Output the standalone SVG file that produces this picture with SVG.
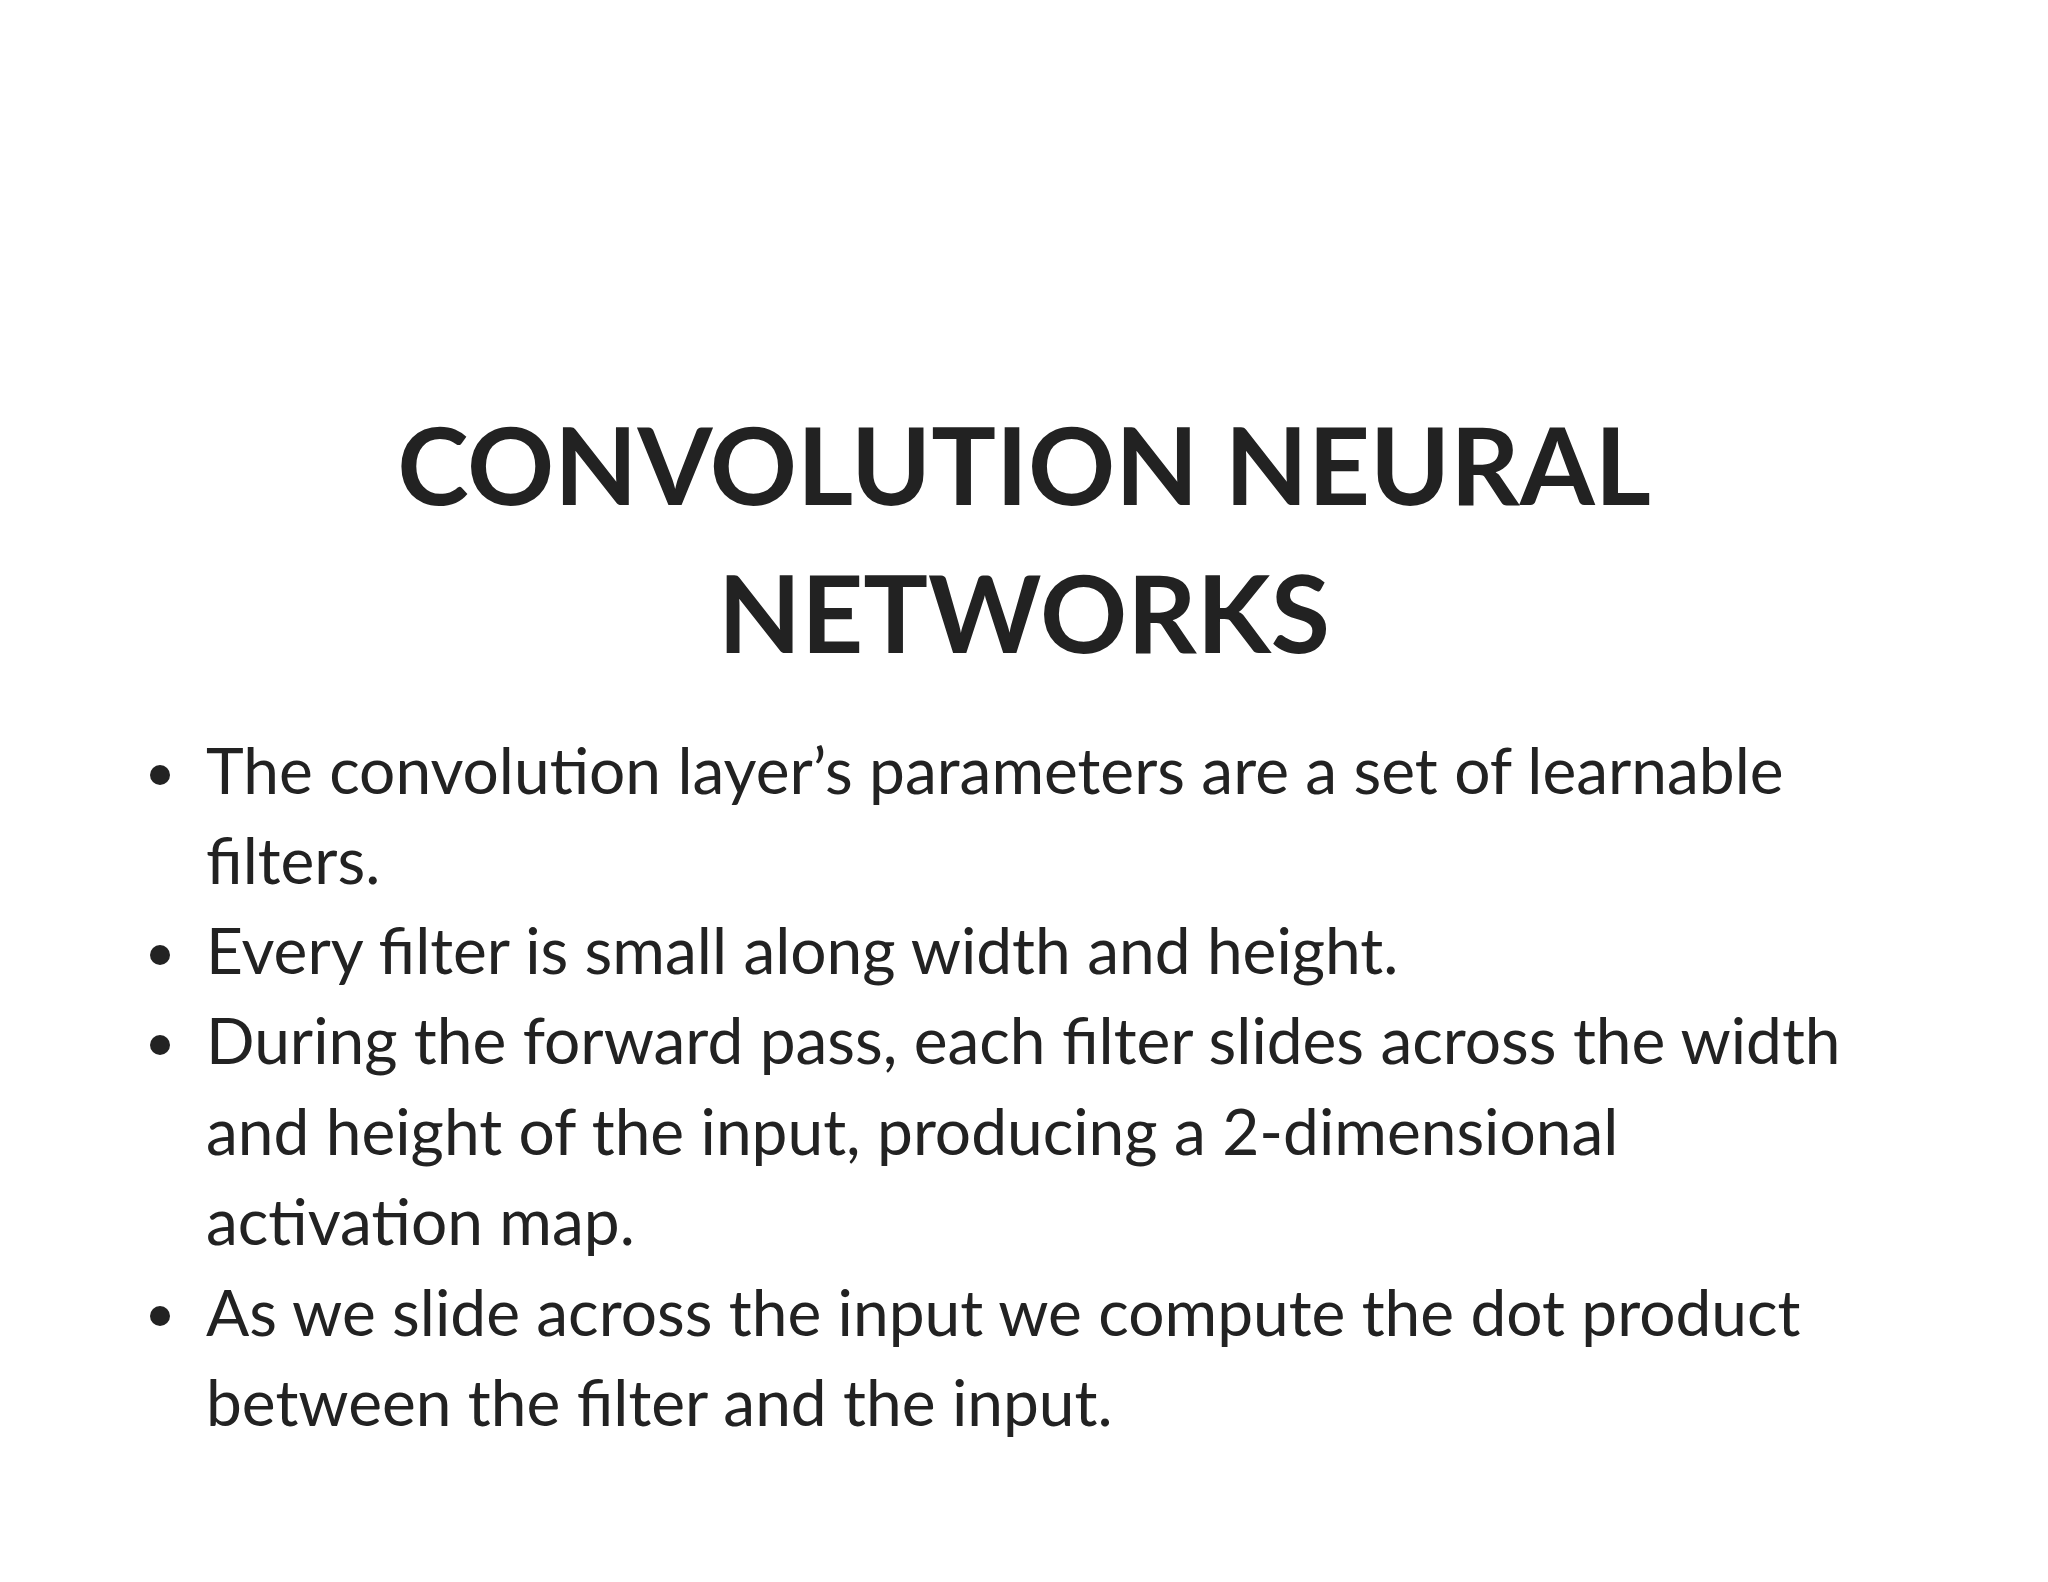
<svg xmlns="http://www.w3.org/2000/svg" width="2048" height="1582" viewBox="0 0 2048 1582">
<style>
.t{font-family:Lato,"Noto Sans",sans-serif;font-weight:bold;font-size:108px;fill:#222;text-anchor:middle}
.b{font-family:Lato,"Noto Sans",sans-serif;font-size:64px;fill:#222}
.d{fill:#222}
</style>
<rect width="2048" height="1582" fill="#fff"/>
<g id="title">
<text class="t" x="1024" y="505">CONVOLUTION NEURAL</text>
<text class="t" x="1024" y="653">NETWORKS</text>
</g>
<g id="bullets">
<circle class="d" cx="160" cy="775" r="10"/>
<circle class="d" cx="160" cy="955" r="10"/>
<circle class="d" cx="160" cy="1045" r="10"/>
<circle class="d" cx="160" cy="1316" r="10"/>
<text class="b" x="206" y="794">The convolution layer’s parameters are a set of learnable</text>
<text class="b" x="206" y="884">filters.</text>
<text class="b" x="206" y="974">Every filter is small along width and height.</text>
<text class="b" x="206" y="1064">During the forward pass, each filter slides across the width</text>
<text class="b" x="206" y="1155">and height of the input, producing a 2-dimensional</text>
<text class="b" x="206" y="1245">activation map.</text>
<text class="b" x="206" y="1336">As we slide across the input we compute the dot product</text>
<text class="b" x="206" y="1426">between the filter and the input.</text>
</g>
</svg>
